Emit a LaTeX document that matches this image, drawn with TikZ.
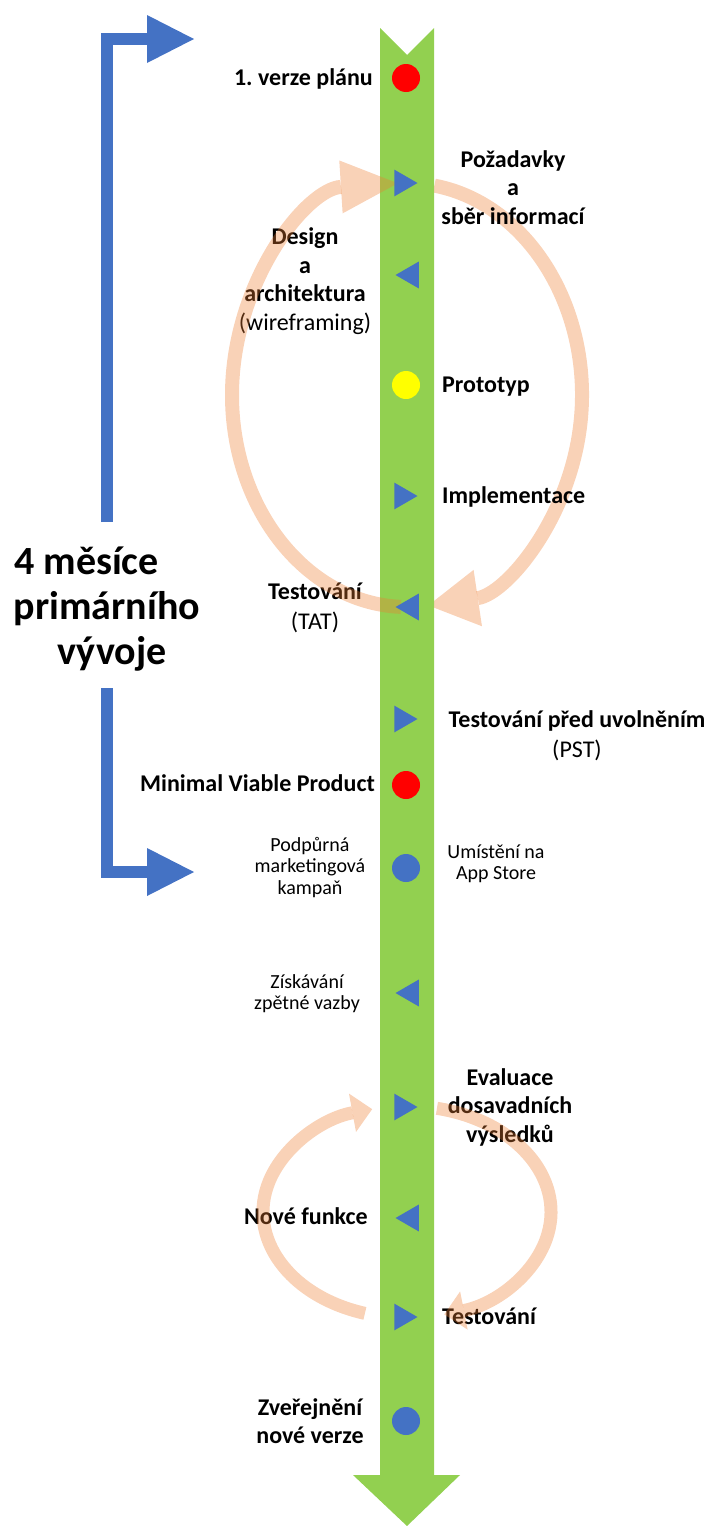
\documentclass[tikz,border=0pt]{standalone}
\usepackage{fontspec}
\setmainfont{Carlito}
\usetikzlibrary{arrows.meta,shapes.geometric}
\definecolor{lgreen}{HTML}{92D050}
\definecolor{mblue}{HTML}{4472C4}
\definecolor{orng}{HTML}{ED7D31}
\definecolor{mred}{HTML}{FF0000}
\definecolor{myellow}{HTML}{FFFF00}
\frenchspacing
\begin{document}
\begin{tikzpicture}[x=1pt,y=-1pt,
  lbl/.style={font=\fontsize{24}{28.5}\selectfont\bfseries, inner sep=0pt, align=center},
  sml/.style={font=\fontsize{20}{21.5}\selectfont, inner sep=0pt, align=center},
  big/.style={font=\fontsize{40}{45}\selectfont\bfseries, inner sep=0pt, align=center},
  rtri/.style={regular polygon, regular polygon sides=3, shape border rotate=-90, fill=mblue, minimum size=31pt, inner sep=0pt},
  ltri/.style={regular polygon, regular polygon sides=3, shape border rotate=90, fill=mblue, minimum size=31pt, inner sep=0pt},
  dot/.style={circle, minimum size=28pt, inner sep=0pt},
  loopbig/.style={draw=orng, line width=14pt, opacity=0.35, -{Triangle[length=57pt,width=53pt,line width=0pt]}},
  loopbigr/.style={draw=orng, line width=14pt, opacity=0.35, -{Triangle[length=50pt,width=57pt,line width=0pt]}},
  loopsmall/.style={draw=orng, line width=13pt, opacity=0.35, -{Triangle[length=20pt,width=39pt,line width=0pt]}},
  bracket/.style={draw=mblue, line width=12pt, line join=miter, -{Triangle[length=47pt,width=48pt,line width=0pt]}}
]
\useasboundingbox (0,0) rectangle (711,1526);

% right half of the large cycle (lies beneath the timeline)
\draw[loopbigr] (407,395) ++(-81:175 and 212) arc[start angle=-81, end angle=83, x radius=175, y radius=212];

% green timeline arrow
\fill[lgreen] (380,28) -- (407,55) -- (434,28) -- (434,1475) -- (460,1475) -- (407,1526) -- (353,1475) -- (380,1475) -- cycle;

% labels (anchor base = baseline of the last line)
\node[lbl, anchor=base east] (t1) at (373,85) {1. verze plánu};
\node[lbl, anchor=base] (t2) at (513,224) {Požadavky\\a\\sběr informací};
\node[lbl, anchor=base] (t3) at (305,330) {Design\\a\\architektura\\{\mdseries (wireframing)}};
\node[lbl, anchor=base west] (t4) at (442,392) {Prototyp};
\node[lbl, anchor=base west] (t5) at (442,503) {Implementace};
\node[lbl, anchor=base] (t6) at (315,629) {Testování\\[1.5pt]{\mdseries (TAT)}};
\node[lbl, anchor=base] (t7) at (577,757) {Testování před uvolněním\\[1.5pt]{\mdseries (PST)}};
\node[lbl, anchor=base east] (t8) at (375,791) {Minimal Viable Product};
\node[sml, anchor=base] (t9) at (310,894) {Podpůrná\\marketingová\\kampaň};
\node[sml, anchor=base] (t10) at (496,879.5) {Umístění na\\App Store};
\node[sml, anchor=base] (t11) at (307,1009.5) {Získávání\\zpětné vazby};
\node[lbl, anchor=base] (t12) at (510,1142) {Evaluace\\dosavadních\\výsledků};
\node[lbl, anchor=base east] (t13) at (368,1224) {Nové funkce};
\node[lbl, anchor=base west] (t14) at (442,1324) {Testování};
\node[lbl, anchor=base] (t15) at (310,1443.5) {Zveřejnění\\nové verze};
\node[big, anchor=base] (t16) at (107,664) {\hbox{4 měsíce\kern41pt}\\primárního\\\hbox{\kern10pt vývoje}};

% orange cycle arrows (semi-transparent, on top of text)
\draw[loopbig] (407,395) ++(92:175 and 212) arc[start angle=92, end angle=267, x radius=175, y radius=212];
\draw[loopsmall] (407,1212) ++(107:144 and 106) arc[start angle=107, end angle=256, x radius=144, y radius=106];
\draw[loopsmall] (407,1212) ++(-78:144 and 106) arc[start angle=-78, end angle=75, x radius=144, y radius=106];

% markers on the timeline
\node[dot, fill=mred] (m1) at (406,78) {};
\node[rtri] (m2) at (402,183) {};
\node[ltri] (m3) at (411,275) {};
\node[dot, fill=myellow] (m4) at (406,385) {};
\node[rtri] (m5) at (402,496) {};
\node[ltri] (m6) at (411,607) {};
\node[rtri] (m7) at (402,719) {};
\node[dot, fill=mred] (m8) at (406,785) {};
\node[dot, fill=mblue] (m9) at (406,868) {};
\node[ltri] (m10) at (411,993) {};
\node[rtri] (m11) at (402,1107) {};
\node[ltri] (m12) at (411,1218) {};
\node[rtri] (m13) at (402,1317) {};
\node[dot, fill=mblue] (m14) at (406,1421) {};

% blue bracket arrows
\coordinate (ua) at (107,522);
\coordinate (ub) at (107,39);
\coordinate (uc) at (194,39);
\draw[bracket] (ua) -- (ub) -- (uc);
\coordinate (la) at (107,688);
\coordinate (lb) at (107,872);
\coordinate (lc) at (194,872);
\draw[bracket] (la) -- (lb) -- (lc);
\end{tikzpicture}
\end{document}
